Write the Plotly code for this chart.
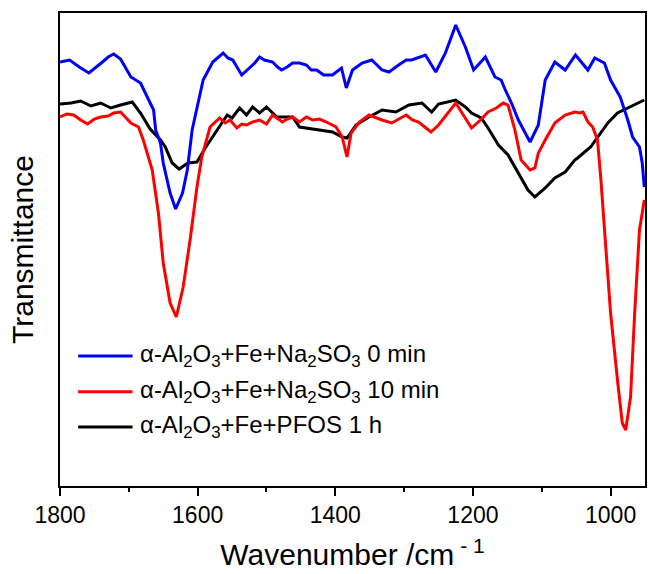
import plotly.graph_objects as go

# ---- data (wavenumber in cm^-1, transmittance in arbitrary units) ----
wn_0min = [1800, 1786, 1772, 1758, 1740, 1730, 1722, 1712, 1697, 1690, 1683, 1664, 1661, 1654,
           1650, 1640, 1632, 1622, 1615, 1608, 1592, 1578, 1563, 1556, 1549, 1536, 1531, 1524,
           1517, 1510, 1503, 1491, 1484, 1478, 1470, 1462, 1452, 1442, 1435, 1427, 1417, 1404,
           1391, 1384, 1375, 1361, 1347, 1332, 1322, 1308, 1297, 1289, 1269, 1254, 1240, 1225,
           1211, 1199, 1182, 1168, 1159, 1153, 1144, 1134, 1130, 1117, 1105, 1095, 1081, 1066,
           1051, 1033, 1023, 1009, 1000, 986, 975, 968, 958, 954, 951]
t_0min = [438, 440, 433, 427, 437, 443, 446, 441, 423, 420, 417, 390, 370, 357,
          337, 307, 291, 307, 330, 370, 420, 438, 447, 442, 440, 425, 428, 433,
          437, 443, 440, 438, 433, 430, 433, 437, 437, 435, 430, 430, 425, 425,
          432, 412, 430, 437, 440, 430, 428, 435, 440, 440, 445, 428, 447, 475,
          453, 430, 443, 423, 420, 410, 397, 380, 375, 358, 375, 420, 438, 430,
          445, 430, 442, 437, 420, 403, 380, 363, 353, 337, 313]

wn_10min = [1800, 1790, 1780, 1770, 1760, 1750, 1741, 1730, 1722, 1712, 1697, 1686, 1679, 1666,
            1657, 1650, 1640, 1631, 1621, 1611, 1601, 1594, 1582, 1568, 1560, 1553, 1543, 1536,
            1529, 1520, 1510, 1500, 1491, 1477, 1470, 1462, 1452, 1442, 1433, 1423, 1413, 1399,
            1390, 1383, 1377, 1365, 1351, 1341, 1332, 1318, 1308, 1297, 1288, 1279, 1270, 1261,
            1250, 1235, 1225, 1214, 1202, 1189, 1178, 1166, 1156, 1149, 1139, 1130, 1117, 1110,
            1105, 1095, 1081, 1066, 1052, 1045, 1040, 1033, 1026, 1019, 1014, 1007, 1000, 990,
            983, 978, 971, 965, 958, 951]
t_10min = [383, 386, 385, 380, 376, 381, 383, 384, 387, 388, 377, 373, 360, 330,
           287, 237, 197, 183, 213, 260, 313, 343, 373, 382, 377, 380, 372, 376,
           375, 378, 380, 376, 385, 378, 381, 383, 378, 383, 380, 381, 378, 373,
           363, 343, 367, 378, 385, 382, 380, 377, 381, 385, 380, 378, 373, 368,
           375, 388, 397, 385, 372, 380, 388, 392, 397, 395, 370, 340, 330, 332,
           347, 360, 377, 385, 388, 387, 388, 378, 373, 360, 320, 253, 187, 120,
           77, 70, 103, 187, 270, 300]

wn_pfos = [1800, 1784, 1770, 1755, 1741, 1726, 1712, 1695, 1683, 1669, 1654, 1647, 1637, 1627,
           1614, 1601, 1589, 1572, 1557, 1550, 1539, 1529, 1520, 1510, 1500, 1485, 1462, 1452,
           1427, 1404, 1390, 1383, 1370, 1351, 1332, 1312, 1293, 1274, 1260, 1250, 1225, 1211,
           1202, 1188, 1178, 1163, 1149, 1134, 1120, 1110, 1095, 1081, 1066, 1052, 1048, 1029,
           1019, 1004, 990, 975, 961, 951]
t_pfos = [396, 397, 399, 394, 397, 392, 395, 398, 387, 371, 360, 353, 337, 331,
          337, 338, 352, 370, 385, 382, 392, 385, 393, 387, 393, 383, 383, 373,
          370, 368, 363, 362, 375, 383, 390, 388, 395, 397, 388, 396, 400, 393,
          387, 382, 372, 355, 345, 327, 310, 303, 312, 322, 328, 340, 342, 353,
          363, 377, 387, 392, 397, 400]

labels = ["α-Al<sub>2</sub>O<sub>3</sub>+Fe+Na<sub>2</sub>SO<sub>3</sub> 0 min",
          "α-Al<sub>2</sub>O<sub>3</sub>+Fe+Na<sub>2</sub>SO<sub>3</sub> 10 min",
          "α-Al<sub>2</sub>O<sub>3</sub>+Fe+PFOS 1 h"]
colors = ["#0000FF", "#FF0000", "#000000"]

x_ticks = [1800, 1600, 1400, 1200, 1000]

FONT = "Liberation Sans, Arial, sans-serif"

fig = go.Figure()
series = [(wn_pfos, t_pfos, labels[2], colors[2]),
          (wn_10min, t_10min, labels[1], colors[1]),
          (wn_0min, t_0min, labels[0], colors[0])]
for xs, ys, name, c in series:
    fig.add_trace(go.Scatter(x=xs, y=ys, mode="lines", name=name,
                             line=dict(color=c, width=3), showlegend=False))

# custom legend (long line samples as in the original)
leg_y = [0.275, 0.199, 0.125]
for name, c, yy in zip(labels, colors, leg_y):
    fig.add_shape(type="line", xref="paper", yref="paper",
                  x0=0.031, x1=0.124, y0=yy, y1=yy,
                  line=dict(color=c, width=3))
    fig.add_annotation(xref="paper", yref="paper", x=0.133, y=yy,
                       xanchor="left", yanchor="middle", showarrow=False,
                       text=name, font=dict(family=FONT, size=24, color="#000"))

fig.update_layout(
    width=648, height=574,
    margin=dict(l=60, r=1, t=13, b=88),
    paper_bgcolor="white", plot_bgcolor="white",
    font=dict(family=FONT, color="#000"),
    xaxis=dict(range=[1800, 950], tickvals=x_ticks, ticks="outside",
               ticklen=8, tickwidth=1.5, tickcolor="#000",
               minor=dict(dtick=100, tick0=1000, ticks="outside", ticklen=4,
                          tickwidth=1.5, tickcolor="#000", showgrid=False),
               showline=True, linecolor="#000", linewidth=1.5, mirror=True,
               showgrid=False, zeroline=False,
               tickfont=dict(family=FONT, size=23),
               title=dict(text="Wavenumber /cm<sup> - 1</sup>",
                          font=dict(family=FONT, size=30), standoff=17)),
    yaxis=dict(range=[14, 487], showticklabels=False, ticks="",
               showline=True, linecolor="#000", linewidth=1.5, mirror=True,
               showgrid=False, zeroline=False,
               title=dict(text="Transmittance", font=dict(family=FONT, size=30),
                          standoff=16)),
)

fig.write_html("out.html")
